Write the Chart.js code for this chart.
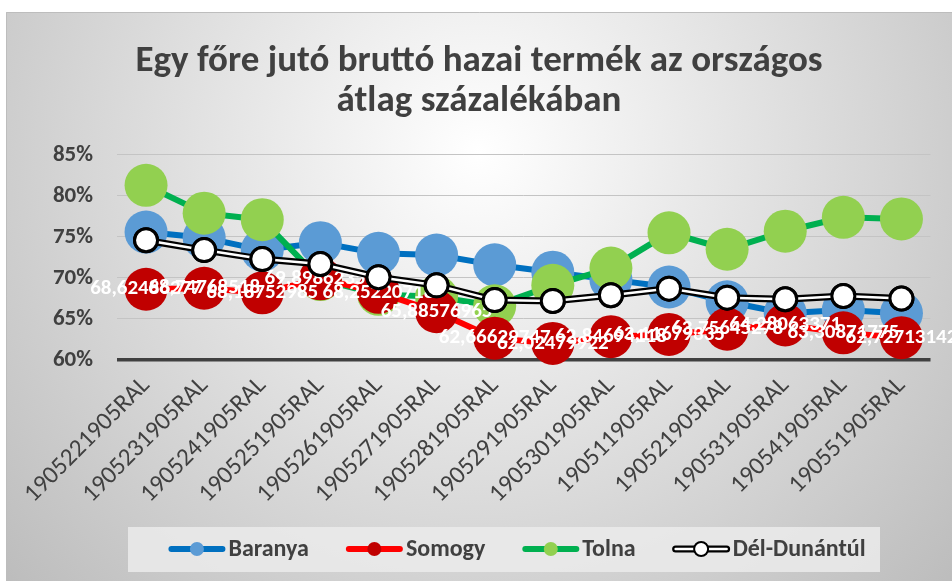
<!DOCTYPE html>
<html>
<head>
<meta charset="utf-8">
<script src="https://cdn.jsdelivr.net/npm/chart.js@4.4.1/dist/chart.umd.min.js"></script>
<style>
  html, body { margin: 0; padding: 0; background: #fff; }
  #wrap { position: absolute; left: 6px; top: 12px; width: 946px; height: 569px; }
</style>
</head>
<body>
<div id="wrap"><canvas id="gdpChart"></canvas></div>
<script>
// ── data ──────────────────────────────────────────────────────────────────
const categories = [
  "1905221905RAL", "1905231905RAL", "1905241905RAL", "1905251905RAL",
  "1905261905RAL", "1905271905RAL", "1905281905RAL", "1905291905RAL",
  "1905301905RAL", "190511905RAL", "190521905RAL", "190531905RAL",
  "190541905RAL", "190551905RAL",
];
const baranya = [75.6, 74.9, 73.4, 74.3, 73.0, 72.8, 71.6, 70.7, 69.8, 68.9, 67.1, 65.7, 66.1, 65.7];
const somogy = [
  68.62486277, 68.74768518, 68.18752985, 69.89862356, 68.25220718, 65.88576965, 62.66629747,
  62.02479922, 62.84694118, 63.11679335, 63.75645278, 64.28063371, 63.30871775, 62.72713142,
];
const tolna = [81.3, 77.9, 77.1, 69.8, 68.0, 67.7, 66.6, 69.1, 71.2, 75.5, 73.5, 75.7, 77.4, 77.2];
const delDunantul = [74.6, 73.4, 72.3, 71.7, 70.1, 69.1, 67.3, 67.2, 67.9, 68.7, 67.6, 67.4, 67.8, 67.5];
const yTicks = [60, 65, 70, 75, 80, 85];

const FONT = "Carlito, 'Liberation Sans Narrow', 'Open Sans', sans-serif";
const TEXT = "#404040";

// ── plugins ───────────────────────────────────────────────────────────────

// grey radial backdrop like the office chart style
const backdrop = {
  id: "backdrop",
  beforeDraw(chart) {
    const { ctx, width, height } = chart;
    const g = ctx.createRadialGradient(width / 2, 140, 0, width / 2, 140, 720);
    g.addColorStop(0, "#ffffff");
    g.addColorStop(1, "#b4b4b4");
    ctx.save();
    ctx.fillStyle = g;
    ctx.fillRect(0, 0, width, height);
    ctx.strokeStyle = "#bdbdbd";
    ctx.lineWidth = 1;
    ctx.beginPath();
    ctx.moveTo(0.5, height);
    ctx.lineTo(0.5, 0.5);
    ctx.lineTo(width, 0.5);
    ctx.stroke();
    ctx.restore();
  },
};

// white value labels on Somogy + white core of the Dél-Dunántúl line
const seriesExtras = {
  id: "seriesExtras",
  afterDatasetDraw(chart, args) {
    const { ctx } = chart;
    const meta = args.meta;
    if (args.index === 1) {
      ctx.save();
      ctx.font = `bold 21px ${FONT}`;
      ctx.fillStyle = "#ffffff";
      ctx.textAlign = "center";
      ctx.textBaseline = "middle";
      meta.data.forEach((p, i) => {
        ctx.fillText(String(somogy[i]).replace(".", ","), p.x, p.y);
      });
      ctx.restore();
    }
    if (args.index === 3) {
      ctx.save();
      ctx.strokeStyle = "#ffffff";
      ctx.lineWidth = 2.5;
      ctx.beginPath();
      meta.data.forEach((p, i) => (i ? ctx.lineTo(p.x, p.y) : ctx.moveTo(p.x, p.y)));
      ctx.stroke();
      ctx.restore();
      meta.data.forEach((p) => p.draw(ctx));
    }
  },
};

// legend drawn by hand: line with marker, then bold text
const lineLegend = {
  id: "lineLegend",
  afterDraw(chart) {
    const { ctx } = chart;
    const sets = chart.data.datasets;
    const lineLen = 57, gap = 3, spacing = 37;
    ctx.save();
    ctx.fillStyle = "rgba(235,235,235,0.85)";
    ctx.fillRect(122, 515, 752, 45);
    ctx.font = `bold 24px ${FONT}`;
    const widths = sets.map((d) => ctx.measureText(d.label).width);
    const total = widths.reduce((a, w) => a + lineLen + gap + w, 0) + spacing * (sets.length - 1);
    let x = 511 - total / 2;
    const y = 537;
    sets.forEach((d, i) => {
      const double = i === 3;
      ctx.lineCap = "round";
      ctx.strokeStyle = d.borderColor;
      ctx.lineWidth = double ? 7 : 6;
      ctx.beginPath();
      ctx.moveTo(x + 3, y);
      ctx.lineTo(x + lineLen - 3, y);
      ctx.stroke();
      if (double) {
        ctx.strokeStyle = "#fff";
        ctx.lineWidth = 2.5;
        ctx.stroke();
      }
      ctx.beginPath();
      ctx.arc(x + lineLen / 2, y, 7, 0, Math.PI * 2);
      ctx.fillStyle = d.pointBackgroundColor;
      ctx.fill();
      if (double) {
        ctx.lineWidth = 2;
        ctx.strokeStyle = "#000";
        ctx.stroke();
      }
      ctx.fillStyle = TEXT;
      ctx.textAlign = "left";
      ctx.textBaseline = "middle";
      ctx.fillText(d.label, x + lineLen + gap, y + 1);
      x += lineLen + gap + widths[i] + spacing;
    });
    ctx.restore();
  },
};

// ── chart ─────────────────────────────────────────────────────────────────

function dotSeries(label, values, line, dot, order) {
  return {
    label,
    data: values,
    borderColor: line,
    borderWidth: 6,
    pointRadius: 21.5,
    pointHoverRadius: 21.5,
    pointBackgroundColor: dot,
    pointBorderColor: dot,
    pointBorderWidth: 0,
    tension: 0,
    clip: false,
    order,
  };
}

new Chart(document.getElementById("gdpChart"), {
  type: "line",
  data: {
    labels: categories,
    datasets: [
      dotSeries("Baranya", baranya, "#0070C0", "#5B9BD5", 4),
      dotSeries("Somogy", somogy, "#FF0000", "#C00000", 2),
      dotSeries("Tolna", tolna, "#00B050", "#92D050", 3),
      {
        label: "Dél-Dunántúl",
        data: delDunantul,
        borderColor: "#000000",
        borderWidth: 7,
        pointRadius: 11.5,
        pointHoverRadius: 11.5,
        pointBackgroundColor: "#ffffff",
        pointBorderColor: "#000000",
        pointBorderWidth: 3,
        clip: false,
        order: 1,
      },
    ],
  },
  options: {
    responsive: true,
    maintainAspectRatio: false,
    animation: false,
    layout: { padding: { left: 0, right: 0, top: 0, bottom: 56 } },
    plugins: {
      legend: { display: false },
      tooltip: { enabled: false },
      title: {
        display: true,
        text: ["Egy főre jutó bruttó hazai termék az országos", "átlag százalékában"],
        color: TEXT,
        font: { family: FONT, size: 37, weight: "bold", lineHeight: 1.08 },
        padding: { top: 30, bottom: 33 },
      },
    },
    scales: {
      x: {
        offset: true,
        grid: { display: false },
        border: { display: false },
        ticks: {
          color: TEXT,
          font: { family: FONT, size: 25 },
          minRotation: 45,
          maxRotation: 45,
          padding: 3,
          autoSkip: false,
        },
        afterFit(scale) { scale.height = 165; },
      },
      y: {
        min: 60,
        max: 85,
        afterBuildTicks(scale) { scale.ticks = yTicks.map((v) => ({ value: v })); },
        grid: {
          drawTicks: false,
          color: (c) => (c.tick && c.tick.value === 60 ? "#404040" : "#c4c4c4"),
          lineWidth: (c) => (c.tick && c.tick.value === 60 ? 3.5 : 1),
        },
        border: { display: false },
        ticks: {
          color: TEXT,
          font: { family: FONT, size: 23, weight: "bold" },
          padding: 24,
          callback: (v) => v + "%",
        },
        afterFit(scale) { scale.width = 111; },
      },
      // empty right-hand strip so the plot stops short of the edge
      yRight: {
        position: "right",
        grid: { display: false },
        border: { display: false },
        ticks: { display: false },
        afterFit(scale) { scale.width = 19; },
      },
    },
  },
  plugins: [backdrop, seriesExtras, lineLegend],
});
</script>
</body>
</html>
